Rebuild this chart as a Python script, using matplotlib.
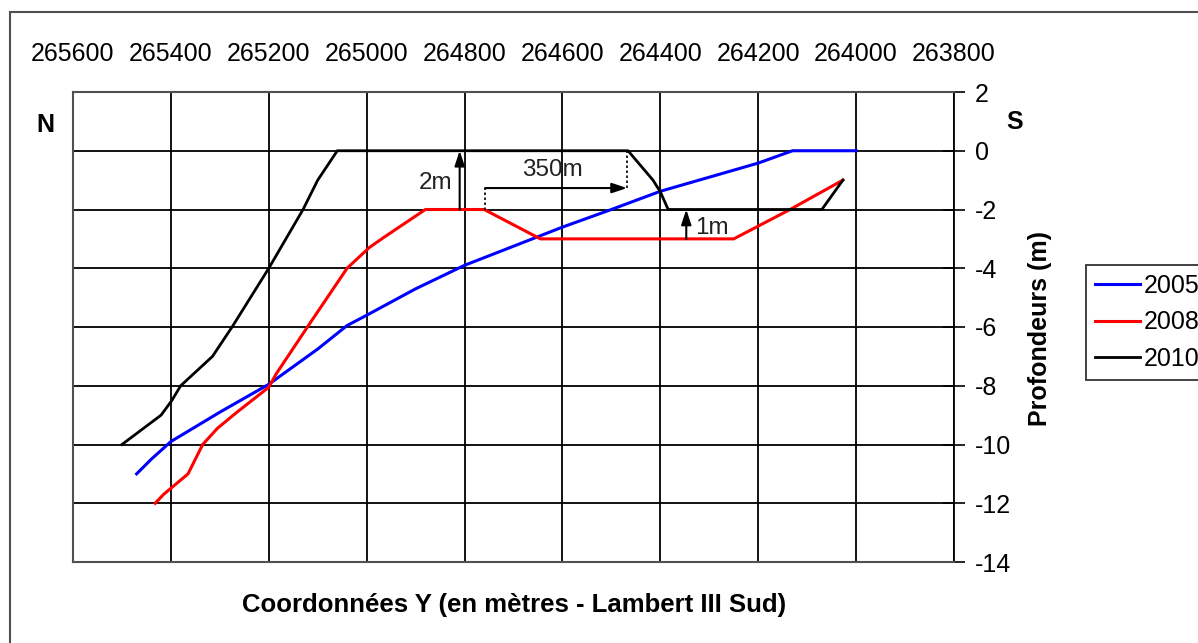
import matplotlib
matplotlib.use("Agg")
import matplotlib.pyplot as plt
from matplotlib.patches import Rectangle

plt.rcParams['font.family'] = ['Liberation Sans', 'DejaVu Sans']

# Data (Y coordinate Lambert III Sud, depth in m)
x2005 = [265470, 265440, 265400, 265300, 265200, 265100, 265040, 265000, 264900,
         264800, 264700, 264600, 264500, 264400, 264300, 264200, 264130, 264000]
y2005 = [-11.0, -10.5, -9.9, -8.9, -7.95, -6.75, -5.95, -5.6, -4.7,
         -3.9, -3.25, -2.6, -2.0, -1.38, -0.9, -0.42, 0.0, 0.0]

x2008 = [265432, 265415, 265365, 265335, 265305, 265265, 265200, 265185, 265115,
         265040, 264995, 264965, 264880, 264760, 264645, 264250, 264135, 264027]
y2008 = [-12.0, -11.7, -11.0, -10.0, -9.45, -8.9, -8.05, -7.6, -5.85,
         -4.0, -3.3, -2.95, -2.0, -2.0, -3.0, -3.0, -2.0, -1.0]

x2010 = [265500, 265420, 265398, 265380, 265315, 265275, 265200, 265130, 265100,
         265060, 264466, 264415, 264400, 264384, 264070, 264027]
y2010 = [-10.0, -9.0, -8.5, -8.0, -7.0, -6.0, -4.0, -2.0, -1.0,
         0.0, 0.0, -1.0, -1.4, -2.0, -2.0, -1.0]

years = ['2005', '2008', '2010']
xticks = [265600, 265400, 265200, 265000, 264800, 264600, 264400, 264200, 264000, 263800]
yticks = [2, 0, -2, -4, -6, -8, -10, -12, -14]

fig = plt.figure(figsize=(11.98, 6.43), dpi=100)
ax = fig.add_axes([73/1198, 1-562/643, (954-73)/1198, (562-92)/643])

ax.plot(x2005, y2005, color='#0000ff', lw=2.2, label=years[0], zorder=3)
ax.plot(x2008, y2008, color='#ff0000', lw=2.2, label=years[1], zorder=3)
ax.plot(x2010, y2010, color='black', lw=2.0, label=years[2], zorder=4)

ax.set_xlim(265600, 263800)
ax.set_ylim(-14, 2)
ax.set_xticks(xticks)
ax.set_xticklabels([str(v) for v in xticks])
ax.set_yticks(yticks)
ax.set_yticklabels([str(v) for v in yticks])

ax.xaxis.tick_top()
ax.tick_params(axis='x', length=0, pad=19, labelsize=18)
ax.yaxis.tick_right()
ax.tick_params(axis='y', direction='inout', length=16, width=1.2, pad=7, labelsize=18)

ax.grid(True, color='black', lw=1.3)
ax.set_axisbelow(True)
for s in ['left', 'top', 'bottom']:
    ax.spines[s].set_color('#505050')
    ax.spines[s].set_linewidth(1.5)
ax.spines['right'].set_color('black')
ax.spines['right'].set_linewidth(1.3)

# Annotations
arrow_kw = dict(arrowstyle='-|>,head_length=0.9,head_width=0.3', color='black', lw=1.5,
                shrinkA=0, shrinkB=0)
ax.annotate('', xy=(264810, 0), xytext=(264810, -2), arrowprops=arrow_kw, zorder=5)
ax.text(264860, -1.1, '2m', fontsize=17.5, ha='center', va='center', color='#222222')

ax.plot([264758, 264758], [-2, -1.27], color='black', lw=1.2, ls=(0, (1.5, 1.5)), zorder=5)
ax.annotate('', xy=(264468, -1.27), xytext=(264758, -1.27), arrowprops=arrow_kw, zorder=5)
ax.plot([264468, 264468], [-1.27, 0], color='black', lw=1.2, ls=(0, (1.5, 1.5)), zorder=5)
ax.text(264621, -0.66, '350m', fontsize=17.5, ha='center', va='center', color='#222222')

ax.annotate('', xy=(264347, -2), xytext=(264347, -3), arrowprops=arrow_kw, zorder=5)
ax.text(264294, -2.63, '1m', fontsize=17.5, ha='center', va='center', color='#222222')

# Labels
fig.text(514/1198, 1-605/643, 'Coordonnées Y (en mètres - Lambert III Sud)',
         fontsize=18.5, fontweight='bold', ha='center', va='center')
fig.text(1040/1198, 1-328/643, 'Profondeurs (m)', fontsize=18, fontweight='bold',
         rotation=90, ha='center', va='center')
fig.text(45/1198, 1-125/643, 'N', fontsize=18, fontweight='bold', ha='center', va='center')
fig.text(1015/1198, 1-122/643, 'S', fontsize=18, fontweight='bold', ha='center', va='center')

leg = fig.legend(loc='upper left', bbox_to_anchor=(1086/1198, 1-265/643),
                 fontsize=18, frameon=True, fancybox=False, edgecolor='black',
                 handlelength=1.8, handletextpad=0.15, borderpad=0.35,
                 labelspacing=0.5, borderaxespad=0)
leg.get_frame().set_linewidth(1.3)

# Outer chart border
fig.add_artist(Rectangle((10/1198, -0.1), 1.2, 1-12/643+0.1, transform=fig.transFigure,
                         fill=False, edgecolor='#505050', lw=1.5, clip_on=False))

fig.savefig('out.png', dpi=100)
